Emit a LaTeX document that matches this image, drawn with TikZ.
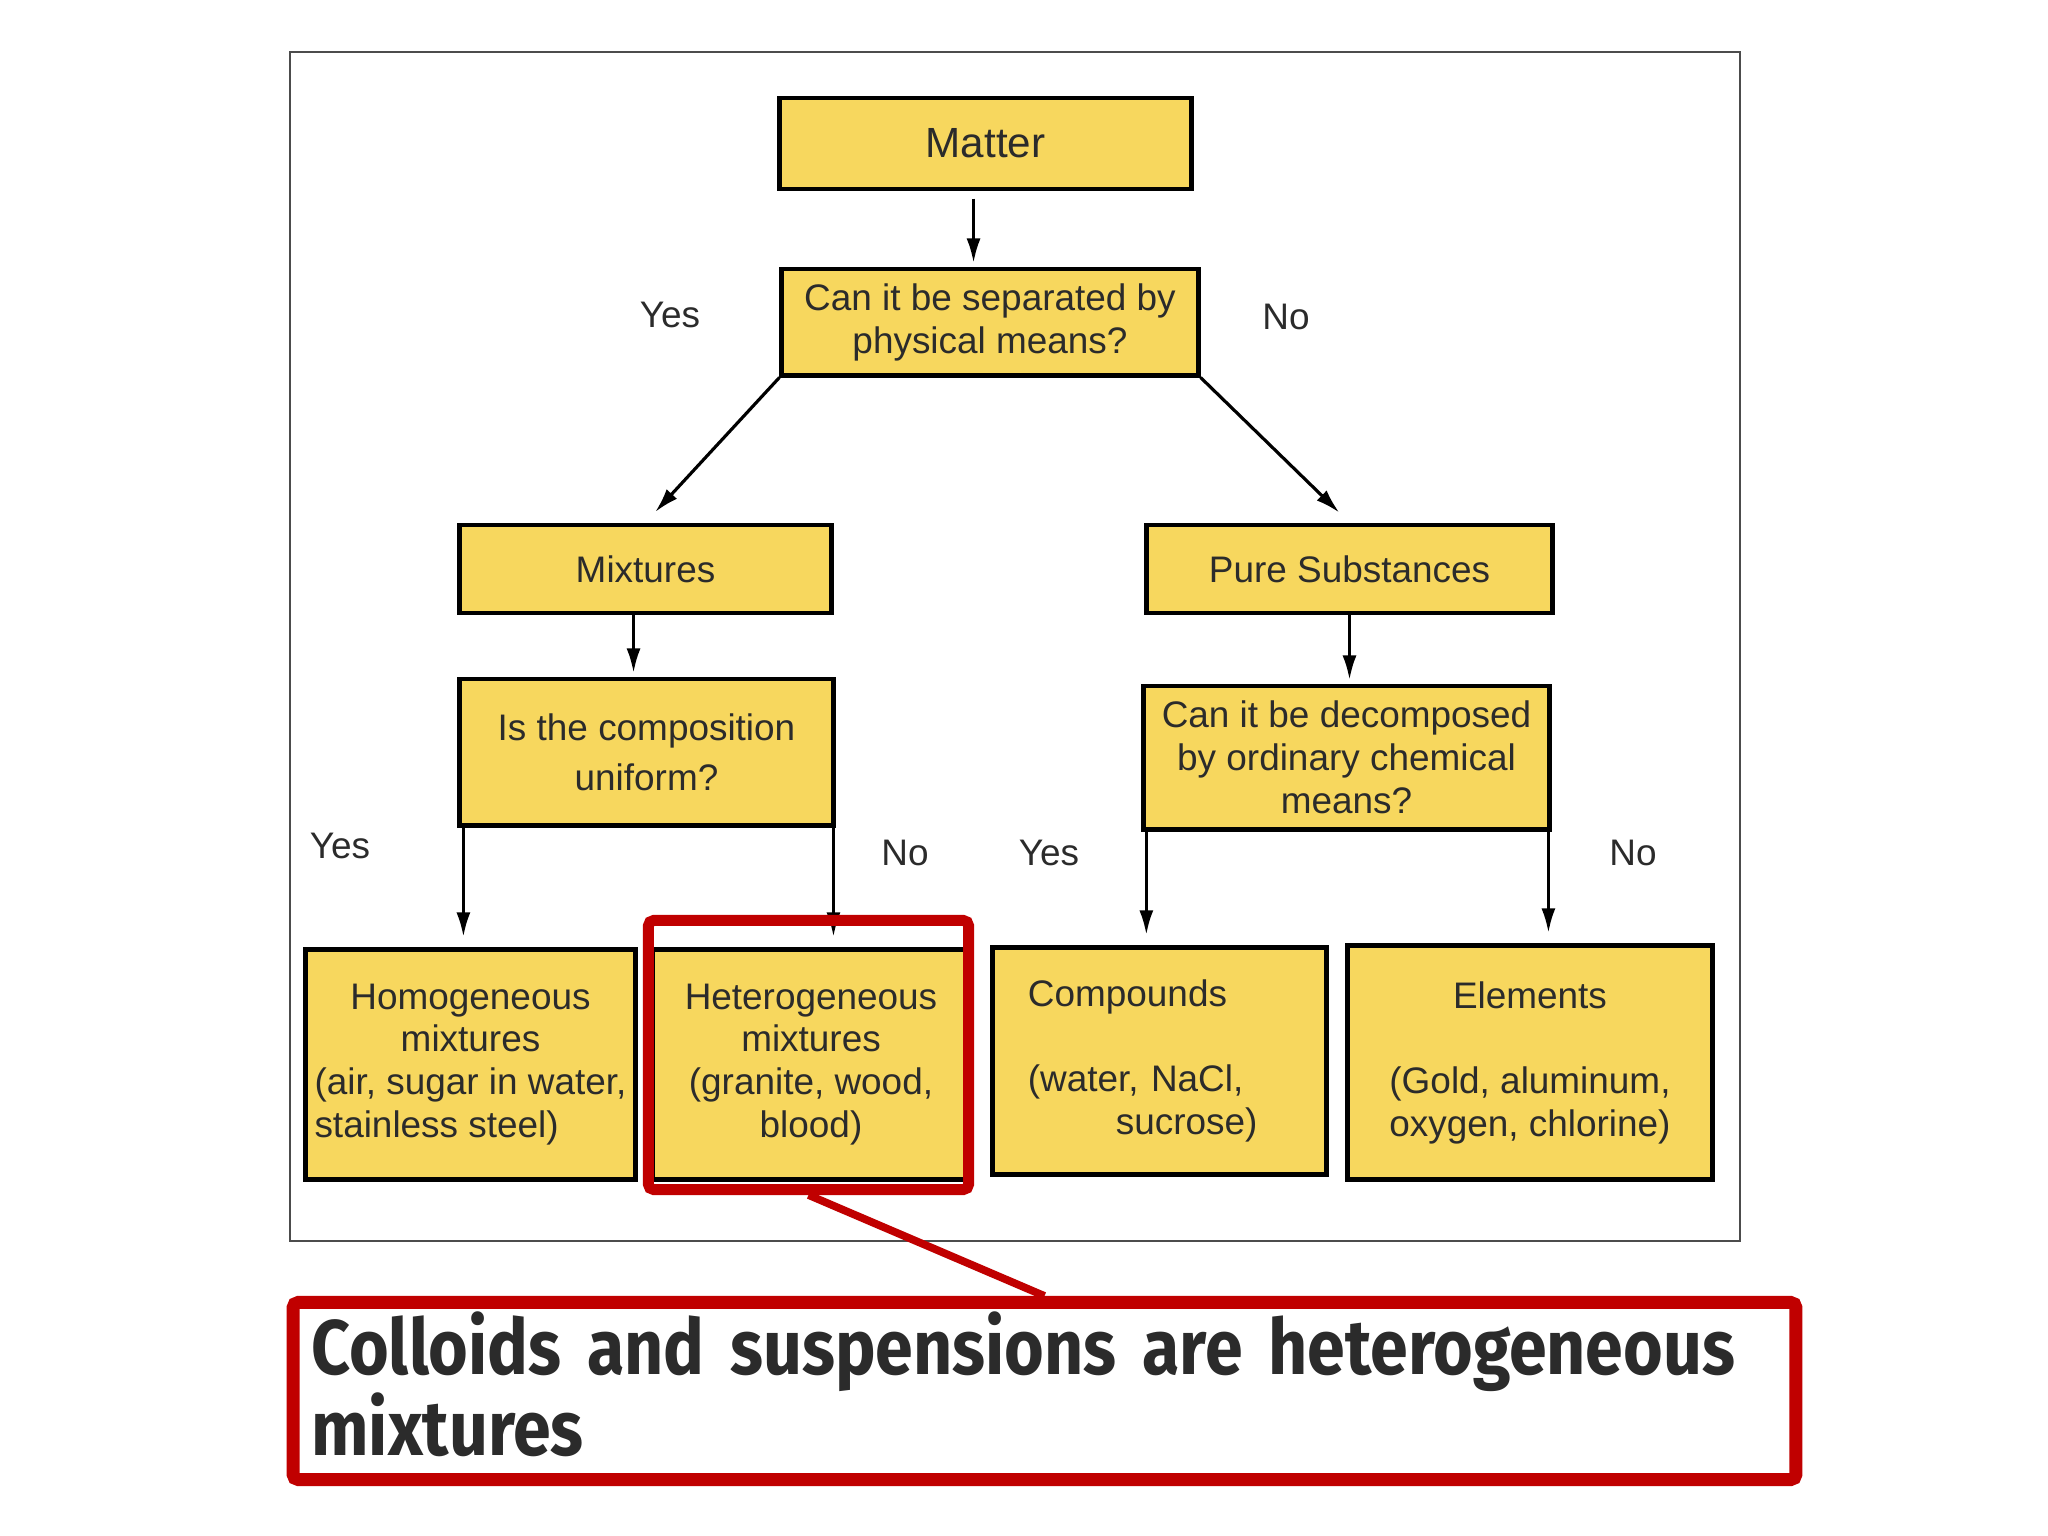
\documentclass[tikz,border=0pt]{standalone}
\usepackage{fontspec}
\usepackage{calc}
\setmainfont{Liberation Sans}
\newfontfamily\notefont[FakeStretch=0.88]{Fira Sans}
\usetikzlibrary{arrows.meta}
\definecolor{boxyellow}{HTML}{F7D75E}
\definecolor{hlred}{HTML}{C00000}
\definecolor{txtgray}{HTML}{2B2B2B}
\tikzset{
  box/.style={draw=black,line width=1.4pt,fill=boxyellow,text=txtgray,align=center,
    font=\fontsize{10.5}{12.2}\selectfont,inner sep=0pt},
  arr/.style={-{Latex[length=7pt,width=4pt]},line width=0.9pt},
  ans/.style={text=txtgray,font=\fontsize{10.5}{12.2}\selectfont},
  hl/.style={draw=hlred,line width=3.1pt,rounded corners=1.5pt},
}

\begin{document}
\begin{tikzpicture}[x=0.01cm,y=-0.01cm]
\useasboundingbox[fill=white] (0,0) rectangle (2048,1536);
\draw[gray!60!black,line width=0.6pt] (290,52) rectangle (1740,1241);

\node[box,minimum width=4.11cm,minimum height=0.91cm,font=\fontsize{12}{14}\selectfont] (matter) at (985.5,143.5) {Matter};
\node[box,minimum width=4.16cm,minimum height=1.06cm] (sep) at (990,322) {Can it be separated by\\physical means?};

\node[box,minimum width=3.71cm,minimum height=0.88cm] (mix) at (645.5,569) {Mixtures};
\node[box,minimum width=4.05cm,minimum height=0.88cm] (pure) at (1349.5,569) {Pure Substances};

\node[box,minimum width=3.73cm,minimum height=1.46cm] (comp) at (646.5,752) {Is the composition\\[2pt]uniform?};
\node[box,minimum width=4.05cm,minimum height=1.43cm] (decomp) at (1346.5,757.5) {Can it be decomposed\\by ordinary chemical\\means?};

\node[box,minimum width=3.29cm,minimum height=2.29cm] (hom) at (470.5,1064.5) {Homogeneous\\mixtures\\(air, sugar in water,\\\makebox[\widthof{(air, sugar in water,}][l]{stainless steel)}};
\node[box,minimum width=3.16cm,minimum height=2.29cm] (het) at (811,1064.5) {Heterogeneous\\mixtures\\(granite, wood,\\blood)};
\node[box,minimum width=3.33cm,minimum height=2.26cm,text width=2.63cm,align=left] (cpd) at (1159.5,1061) {Compounds\\[12pt](water, NaCl,\\\hspace*{25pt}sucrose)};
\node[box,minimum width=3.64cm,minimum height=2.33cm] (elem) at (1530,1062.5) {Elements\\[12pt](Gold, aluminum,\\oxygen, chlorine)};

\node[ans] (yes1) at (670,315) {Yes};
\node[ans] (no1) at (1286,317) {No};
\node[ans] (yes2) at (340,846) {Yes};
\node[ans] (no2) at (905,853) {No};
\node[ans] (yes3) at (1049,853) {Yes};
\node[ans] (no3) at (1633,853) {No};

\coordinate (m1) at ([xshift=-3.4pt]matter.south);
\coordinate (m2) at ([xshift=-3.4pt]mix.south);
\draw[arr,shorten <=2pt,shorten >=1pt] (m1) -- (m1 |- sep.north);
\draw[arr,shorten >=4pt] (sep.south west) -- (mix.north);
\draw[arr,shorten >=4pt] (sep.south east) -- (pure.north);
\draw[arr,shorten >=1pt] (m2) -- (m2 |- comp.north);
\draw[arr,shorten >=1pt] (pure.south) -- (pure.south |- decomp.north);

\coordinate (c1) at ([xshift=1.7pt]comp.south west);
\coordinate (c2) at ([xshift=-0.6pt]comp.south east);
\coordinate (c3) at ([xshift=1.4pt]decomp.south west);
\coordinate (c4) at ([xshift=-0.9pt]decomp.south east);
\draw[arr,shorten >=3pt] (c1) -- (c1 |- hom.north);
\draw[arr,shorten >=3pt] (c2) -- (c2 |- het.north);
\draw[arr,shorten >=3pt] (c3) -- (c3 |- cpd.north);
\draw[arr,shorten >=3pt] (c4) -- (c4 |- elem.north);

% highlight and note
\node[hl,minimum width=3.2cm,minimum height=2.69cm] (hlbox) at (808.5,1055) {};
\node[hl,line width=3.7pt,minimum width=15.02cm,minimum height=1.77cm] (note) at (1044.5,1391) {};
\draw[hlred,line width=2.2pt] (hlbox.south) -- (note.north);
\node[anchor=west,inner sep=0pt,text width=14.23cm,align=justify,text=txtgray,
  font=\notefont\bfseries\fontsize{22}{23}\selectfont] (notetext) at ([xshift=0.24cm,yshift=2pt]note.west)
  {Colloids and suspensions are heterogeneous\linebreak mixtures};
\end{tikzpicture}
\end{document}
